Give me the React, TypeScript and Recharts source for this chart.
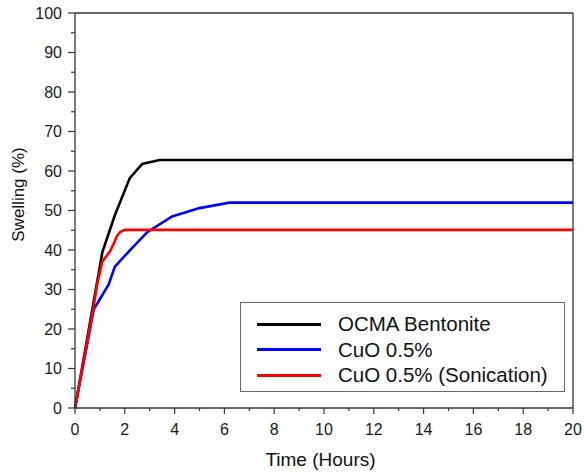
import { Label, Legend, Line, LineChart, ReferenceLine, XAxis, YAxis } from "recharts"

const bentoniteHours = [0, 1.1, 1.6, 2.2, 2.7, 3.4, 20]
const bentoniteSwelling = [0, 39.5, 48.8, 58.2, 61.8, 62.8, 62.8]

const cuoHours = [0, 0.75, 1.0, 1.35, 1.6, 2.1, 2.9, 3.9, 5.0, 6.2, 20]
const cuoSwelling = [0, 24.9, 27.6, 31.2, 35.8, 39.2, 44.5, 48.5, 50.6, 52, 52]

const sonicHours = [0, 0.7, 0.9, 1.1, 1.4, 1.57, 1.67, 1.8, 2.0, 20]
const sonicSwelling = [0, 24, 31.6, 37.1, 39.6, 41.8, 43.4, 44.5, 45.1, 45.1]

const xTicks = [0, 1, 2, 3, 4, 5, 6, 7, 8, 9, 10, 11, 12, 13, 14, 15, 16, 17, 18, 19, 20]
const yTicks = [0, 5, 10, 15, 20, 25, 30, 35, 40, 45, 50, 55, 60, 65, 70, 75, 80, 85, 90, 95, 100]

const AXIS = "#333"
const FONT = "'Liberation Sans', Arial, sans-serif"

const toRows = (hours: number[], values: number[]) => hours.map((t, i) => ({ t, v: values[i] }))

const series = [
  { name: "OCMA Bentonite", color: "#000000", data: toRows(bentoniteHours, bentoniteSwelling) },
  { name: "CuO 0.5%", color: "#0000ff", data: toRows(cuoHours, cuoSwelling) },
  { name: "CuO 0.5% (Sonication)", color: "#ff0000", data: toRows(sonicHours, sonicSwelling) },
]
const legendOrder = series.map((s) => s.name)

function XTick({ x, y, payload }: any) {
  const major = payload.value % 2 === 0
  return (
    <g>
      <line x1={x} x2={x} y1={y} y2={y + (major ? 6 : 3)} stroke={AXIS} strokeWidth={1.2} />
      {major && (
        <text x={x} y={y + 27} textAnchor="middle" fontSize={16} fontFamily={FONT} fill="#1a1a1a">
          {payload.value}
        </text>
      )}
    </g>
  )
}

function YTick({ x, y, payload }: any) {
  const major = payload.value % 10 === 0
  return (
    <g>
      <line x1={x - (major ? 7 : 4)} x2={x} y1={y} y2={y} stroke={AXIS} strokeWidth={1.2} />
      {major && (
        <text x={x - 13} y={y + 5.5} textAnchor="end" fontSize={16} fontFamily={FONT} fill="#1a1a1a">
          {payload.value}
        </text>
      )}
    </g>
  )
}

function LegendBox({ payload }: any) {
  const items = [...(payload ?? [])].sort(
    (a: any, b: any) => legendOrder.indexOf(a.value) - legendOrder.indexOf(b.value)
  )
  return (
    <div
      style={{
        width: 325,
        height: 90,
        boxSizing: "border-box",
        border: "1px solid #666",
        background: "#fff",
        position: "relative",
        fontFamily: FONT,
      }}
    >
      {items.map((item: any, i: number) => (
        <div
          key={item.value}
          style={{ position: "absolute", left: 0, top: 21 + i * 25.5 - 12, height: 24, display: "flex", alignItems: "center" }}
        >
          <span style={{ display: "inline-block", marginLeft: 16, width: 64, height: 3, background: item.color }} />
          <span style={{ marginLeft: 17, fontSize: 20.5, color: "#111", whiteSpace: "nowrap" }}>{item.value}</span>
        </div>
      ))}
    </div>
  )
}

export default function App() {
  return (
    <div style={{ width: 585, height: 472, background: "#fff" }}>
      <style>{"body{margin:0}"}</style>
      <LineChart width={585} height={472} margin={{ top: 13, right: 12, bottom: 0, left: 0 }}>
        <XAxis
          type="number"
          dataKey="t"
          domain={[0, 20]}
          ticks={xTicks}
          interval={0}
          height={64}
          tickLine={false}
          tickSize={0}
          tickMargin={0}
          tick={<XTick />}
          axisLine={{ stroke: AXIS, strokeWidth: 1.3 }}
          allowDuplicatedCategory={false}
        >
          <Label value="Time (Hours)" position="insideBottom" offset={6} dx={-3.5} fontSize={19} fontFamily={FONT} fill="#111" />
        </XAxis>
        <YAxis
          type="number"
          domain={[0, 100]}
          ticks={yTicks}
          interval={0}
          width={75}
          tickLine={false}
          tickSize={0}
          tickMargin={0}
          tick={<YTick />}
          axisLine={{ stroke: AXIS, strokeWidth: 1.3 }}
        >
          <Label value="Swelling (%)" position="center" angle={-90} dx={-20} dy={-16} fontSize={17} fontFamily={FONT} fill="#111" />
        </YAxis>
        <ReferenceLine y={100} stroke={AXIS} strokeWidth={1.3} />
        <ReferenceLine x={20} stroke={AXIS} strokeWidth={1.3} />
        {series.map((s) => (
          <Line
            key={s.name}
            data={s.data}
            dataKey="v"
            name={s.name}
            type="linear"
            stroke={s.color}
            strokeWidth={2.6}
            dot={false}
            activeDot={false}
            isAnimationActive={false}
          />
        ))}
        <Legend
          layout="vertical"
          align="center"
          verticalAlign="middle"
          content={<LegendBox />}
          wrapperStyle={{ left: 240, top: 302, width: 325, height: 90 }}
        />
      </LineChart>
    </div>
  )
}
